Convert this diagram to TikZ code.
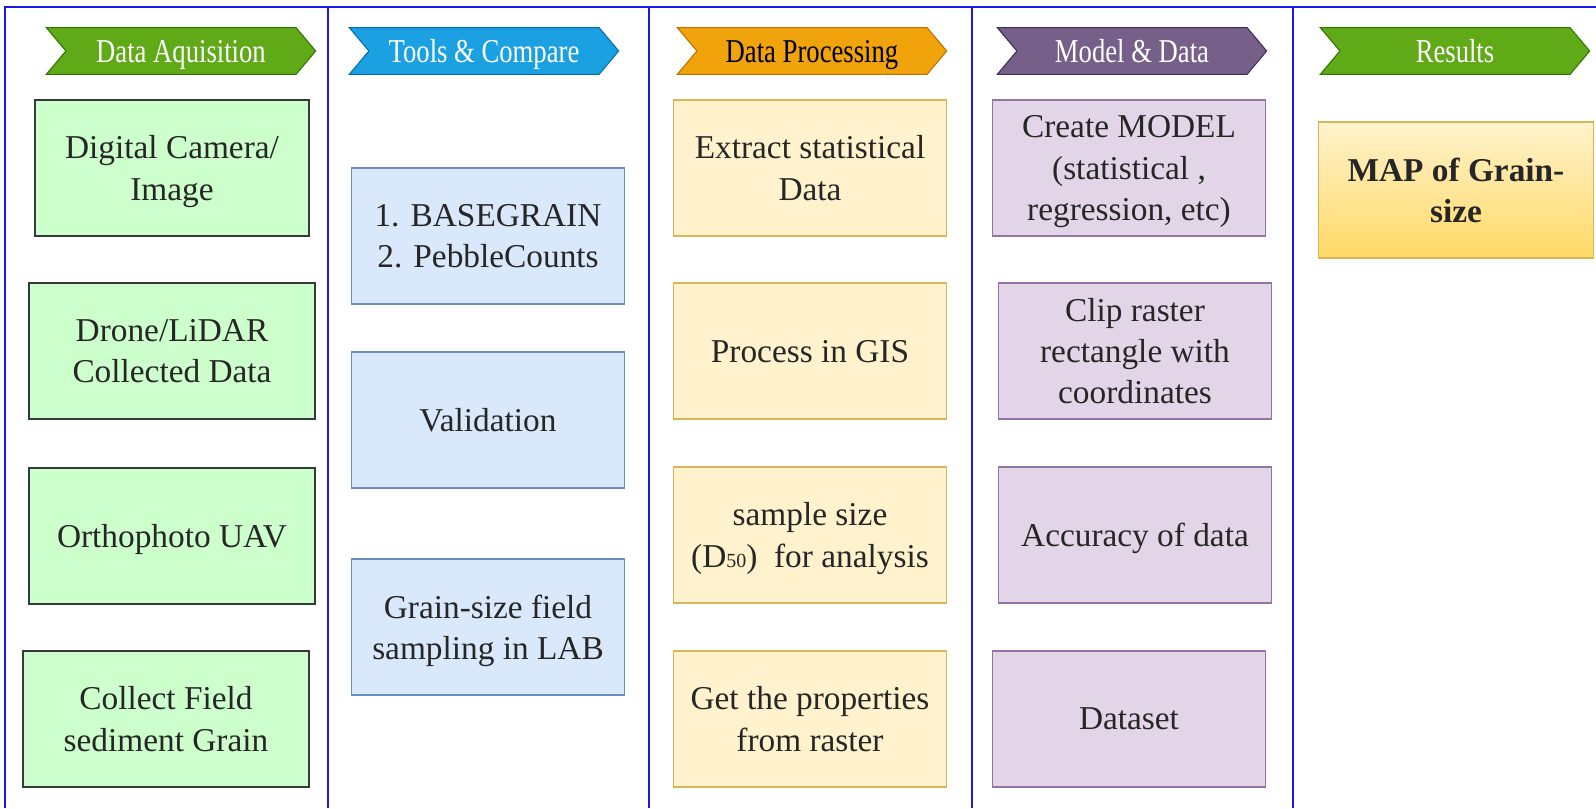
\documentclass[tikz,border=0pt]{standalone}
\usepackage{fontspec}
\setmainfont{Liberation Serif}
\newfontfamily\hdrfont[FakeStretch=0.8]{Liberation Serif}
\usetikzlibrary{shapes.symbols, positioning}

\definecolor{lane}{HTML}{1A1AE6}
\definecolor{acqfill}{HTML}{CCFFCC}
\definecolor{acqline}{HTML}{36393D}
\definecolor{toolfill}{HTML}{DAE8FC}
\definecolor{toolline}{HTML}{6C8EBF}
\definecolor{procfill}{HTML}{FFF2CC}
\definecolor{procline}{HTML}{D6B656}
\definecolor{modfill}{HTML}{E1D5E7}
\definecolor{modline}{HTML}{9673A6}
\definecolor{resfill}{HTML}{FFD966}
\definecolor{hgreen}{HTML}{60A917}
\definecolor{hgreenline}{HTML}{2D7600}
\definecolor{hblue}{HTML}{1BA1E2}
\definecolor{hblueline}{HTML}{006EAF}
\definecolor{hamber}{HTML}{F0A30A}
\definecolor{hamberline}{HTML}{BD7000}
\definecolor{hpurple}{HTML}{76608A}
\definecolor{hpurpleline}{HTML}{432D57}

\tikzset{
    box/.style={rectangle, draw, line width=1.1pt, minimum width=205pt, minimum height=102pt,
        align=center, font=\fontsize{25}{31}\selectfont, text=black!85, text depth=0pt},
    acq/.style={box, fill=acqfill, draw=acqline, line width=1.4pt},
    tool/.style={box, fill=toolfill, draw=toolline},
    proc/.style={box, fill=procfill, draw=procline},
    modl/.style={box, fill=modfill, draw=modline},
    res/.style={box, top color=procfill, bottom color=resfill, draw=procline,
        font=\fontsize{25}{31}\selectfont\bfseries},
    phase/.style={signal, signal from=west, signal to=east, signal pointer angle=100,
        minimum width=202pt, minimum height=35pt, inner sep=0pt, line width=0.8pt,
        font=\hdrfont\fontsize{25}{25}\selectfont, text=white, text depth=0pt},
    laneline/.style={draw=lane, line width=1.5pt},
}

\begin{document}
\begin{tikzpicture}[x=0.75pt, y=-0.75pt]
\useasboundingbox (0,0) rectangle (1596,808);

% Swimlane frame
\draw[laneline] (5,808) -- (5,7) -- (1596,7);
\foreach \xl in {328, 649, 972, 1293}
    \draw[laneline] (\xl,7) -- (\xl,808);

% Phase headers
\node[phase, fill=hgreen, draw=hgreenline] (hacq) at (181,51) {Data Aquisition};
\node[phase, fill=hblue, draw=hblueline] (htool) at (484,51) {Tools \& Compare};
\node[phase, fill=hamber, draw=hamberline, text=black] (hproc) at (812,51) {Data Processing};
\node[phase, fill=hpurple, draw=hpurpleline] (hmodl) at (1132,51) {Model \& Data};
\node[phase, fill=hgreen, draw=hgreenline] (hres) at (1455,51) {Results};

% Data acquisition
\node[acq] (camera) at (172,168) {Digital Camera/\\Image};
\node[acq, minimum width=214pt] (drone) at (172,351) {Drone/LiDAR\\Collected Data};
\node[acq, minimum width=214pt] (ortho) at (172,536) {Orthophoto UAV};
\node[acq, minimum width=215pt] (field) at (166,719) {Collect Field\\sediment Grain};

% Tools and comparison
\node[tool] (tools) at (488,236) {1. BASEGRAIN\\2. PebbleCounts};
\node[tool] (valid) at (488,420) {Validation};
\node[tool] (lab) at (488,627) {Grain-size field\\sampling in LAB};

% Data processing
\node[proc] (extract) at (810,168) {Extract statistical\\Data};
\node[proc] (gis) at (810,351) {Process in GIS};
\node[proc] (sample) at (810,535) {sample size\\(D{\fontsize{15}{15}\selectfont 50})\ \ for analysis};
\node[proc] (props) at (810,719) {Get the properties\\from raster};

% Model and data
\node[modl] (model) at (1129,168) {Create MODEL\\(statistical ,\\regression, etc)};
\node[modl] (clip) at (1135,351) {Clip raster\\rectangle with\\coordinates};
\node[modl] (accur) at (1135,535) {Accuracy of data};
\node[modl] (dataset) at (1129,719) {Dataset};

% Results
\node[res, minimum width=206pt] (map) at (1456,190) {MAP of Grain-\\size};

\end{tikzpicture}
\end{document}
